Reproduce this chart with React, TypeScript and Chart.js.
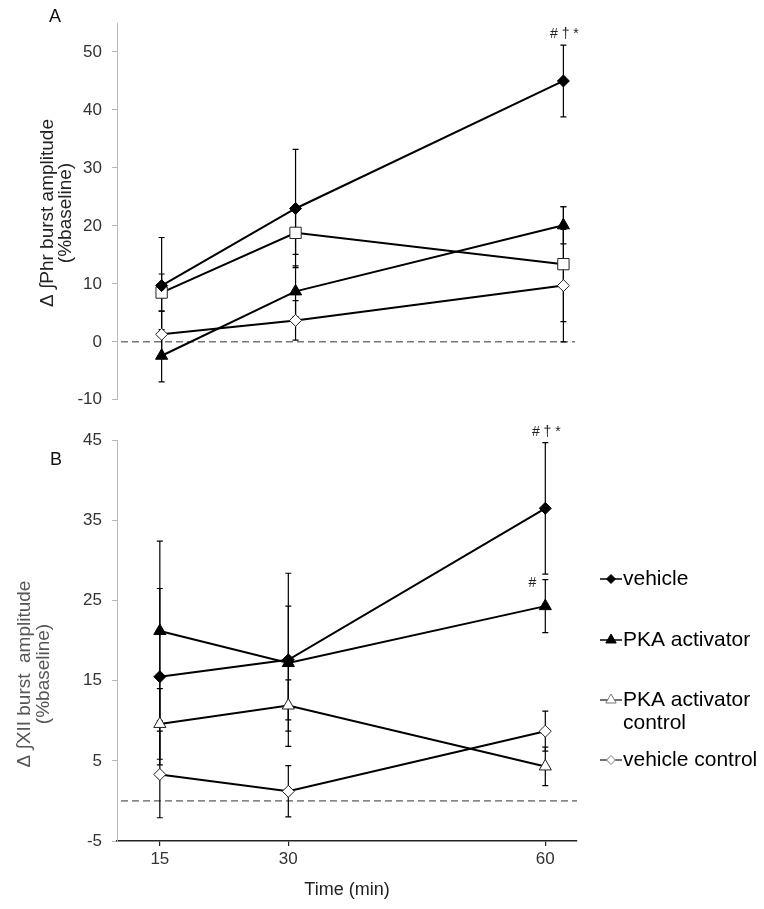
import React, { useEffect, useRef } from "react";
import { Chart, registerables } from "chart.js";
import { drawPoint } from "chart.js/helpers";

Chart.register(...registerables);

const FONT = "'Liberation Sans', Arial, Helvetica, sans-serif";

// ---------- data ----------
const timePoints = [15, 30, 60];
const seriesNames = ["vehicle", "PKA activator", "PKA activator control", "vehicle control"];
const legendLines = [["vehicle"], ["PKA activator"], ["PKA activator", "control"], ["vehicle control"]];

// Panel A: Δ∫Phr burst amplitude (%baseline)
const phrVehicle = [9.7, 23.0, 45.0];
const phrVehicleErr = [8.3, 10.2, 6.2];
const phrPka = [-2.4, 8.7, 20.1];
const phrPkaErr = [4.5, 4.4, 3.2];
const phrPkaCtrl = [8.5, 18.8, 13.4];
const phrPkaCtrlErr = [3.2, 3.7, 9.9];
const phrVehCtrl = [1.3, 3.7, 9.7];
const phrVehCtrlErr = [4.0, 3.4, 9.7];

// Panel B: Δ∫XII burst amplitude (%baseline)
const xiiVehicle = [15.5, 17.6, 36.5];
const xiiVehicleErr = [11.0, 10.8, 8.2];
const xiiPka = [21.2, 17.2, 24.3];
const xiiPkaErr = [11.2, 7.1, 3.3];
const xiiPkaCtrl = [9.6, 11.9, 4.3];
const xiiPkaCtrlErr = [4.4, 3.2, 2.4];
const xiiVehCtrl = [3.3, 1.2, 8.7];
const xiiVehCtrlErr = [5.4, 3.2, 2.5];

const yTicksA = [-10, 0, 10, 20, 30, 40, 50];
const yTicksB = [-5, 5, 15, 25, 35, 45];
const xTicks = [15, 30, 60];

const yTitleA = ["\u0394 \u222BPhr burst amplitude", "(%baseline)"];
const yTitleB = ["\u0394 \u222BXII burst  amplitude", "(%baseline)"];
const xTitle = "Time (min)";

const annotationsA = [{ series: 0, index: 2, text: "# \u2020 *", place: "above" }];
const annotationsB = [
  { series: 0, index: 2, text: "# \u2020 *", place: "above" },
  { series: 1, index: 2, text: "#", place: "left" },
];

// ---------- styles ----------
const stylesA = [
  { pointStyle: "rectRot", radius: 6, fill: "#000", stroke: "#000", bw: 1 },
  { pointStyle: "triangle", radius: 7, fill: "#000", stroke: "#000", bw: 1 },
  { pointStyle: "rect", radius: 8, fill: "#fff", stroke: "#222", bw: 1 },
  { pointStyle: "rectRot", radius: 6, fill: "#fff", stroke: "#222", bw: 1 },
];
const stylesB = [
  { pointStyle: "rectRot", radius: 6, fill: "#000", stroke: "#000", bw: 1 },
  { pointStyle: "triangle", radius: 7, fill: "#000", stroke: "#000", bw: 1 },
  { pointStyle: "triangle", radius: 7, fill: "#fff", stroke: "#222", bw: 1 },
  { pointStyle: "rectRot", radius: 6, fill: "#fff", stroke: "#222", bw: 1 },
];
const legendStyles = [
  { pointStyle: "rectRot", radius: 4.5, fill: "#000", stroke: "#000", line: "#000" },
  { pointStyle: "triangle", radius: 6, fill: "#000", stroke: "#000", line: "#000" },
  { pointStyle: "triangle", radius: 6, fill: "#fff", stroke: "#777", line: "#444" },
  { pointStyle: "rectRot", radius: 4.5, fill: "#fff", stroke: "#777", line: "#444" },
];

function makeDatasets(values: number[][], errors: number[][], styles: any[]) {
  return values.map((vals, si) => ({
    label: seriesNames[si],
    data: timePoints.map((t, i) => ({ x: t, y: vals[i] })),
    errors: errors[si],
    showLine: true,
    borderColor: "#000",
    borderWidth: 2,
    pointStyle: styles[si].pointStyle,
    pointRadius: styles[si].radius,
    pointBackgroundColor: styles[si].fill,
    pointBorderColor: styles[si].stroke,
    pointBorderWidth: styles[si].bw,
    tension: 0,
  }));
}

const errorBarPlugin = {
  id: "errorBars",
  beforeDatasetsDraw(chart: any) {
    const { ctx, scales } = chart;
    ctx.save();
    ctx.strokeStyle = "#000";
    ctx.lineWidth = 1.2;
    chart.data.datasets.forEach((ds: any) => {
      ds.data.forEach((p: any, i: number) => {
        const e = ds.errors[i];
        const x = scales.x.getPixelForValue(p.x);
        const y1 = scales.y.getPixelForValue(p.y + e);
        const y2 = scales.y.getPixelForValue(p.y - e);
        ctx.beginPath();
        ctx.moveTo(x, y1);
        ctx.lineTo(x, y2);
        ctx.moveTo(x - 3, y1);
        ctx.lineTo(x + 3, y1);
        ctx.moveTo(x - 3, y2);
        ctx.lineTo(x + 3, y2);
        ctx.stroke();
      });
    });
    ctx.restore();
  },
};

const zeroLinePlugin = {
  id: "zeroLine",
  beforeDatasetsDraw(chart: any) {
    const { ctx, chartArea, scales } = chart;
    const y = scales.y.getPixelForValue(0);
    ctx.save();
    ctx.setLineDash([7, 4]);
    ctx.strokeStyle = "#333";
    ctx.lineWidth = 1;
    ctx.beginPath();
    ctx.moveTo(chartArea.left + 4, y);
    ctx.lineTo(chartArea.right, y);
    ctx.stroke();
    ctx.restore();
  },
};

function makeAnnotationPlugin(annots: any[]) {
  return {
    id: "annots",
    afterDatasetsDraw(chart: any) {
      const { ctx, scales } = chart;
      ctx.save();
      ctx.fillStyle = "#222";
      ctx.font = `14px ${FONT}`;
      annots.forEach((a) => {
        const ds: any = chart.data.datasets[a.series];
        const p = ds.data[a.index];
        const x = scales.x.getPixelForValue(p.x);
        const yTop = scales.y.getPixelForValue(p.y + ds.errors[a.index]);
        if (a.place === "above") {
          ctx.textAlign = "center";
          ctx.textBaseline = "alphabetic";
          ctx.fillText(a.text, x + 1, yTop - 7);
        } else {
          ctx.textAlign = "right";
          ctx.textBaseline = "middle";
          ctx.fillText(a.text, x - 9, yTop + 3);
        }
      });
      ctx.restore();
    },
  };
}

function makePanelLabelPlugin(text: string, x: number, y: number) {
  return {
    id: "panelLabel",
    afterDraw(chart: any) {
      const { ctx } = chart;
      ctx.save();
      ctx.fillStyle = "#111";
      ctx.font = `18px ${FONT}`;
      ctx.textAlign = "center";
      ctx.textBaseline = "middle";
      ctx.fillText(text, x, y);
      ctx.restore();
    },
  };
}

function makeYTitlePlugin(lines: string[], xs: number[], cy: number, color: string) {
  return {
    id: "yTitle",
    afterDraw(chart: any) {
      const { ctx } = chart;
      ctx.save();
      ctx.fillStyle = color;
      ctx.font = `19px ${FONT}`;
      ctx.textAlign = "center";
      ctx.textBaseline = "middle";
      lines.forEach((ln, i) => {
        ctx.save();
        ctx.translate(xs[i], cy);
        ctx.rotate(-Math.PI / 2);
        ctx.fillText(ln, 0, 0);
        ctx.restore();
      });
      ctx.restore();
    },
  };
}

function makeLegendPlugin(offsetY: number) {
  const centers = [579, 640, 700, 760];
  return {
    id: "customLegend",
    afterDraw(chart: any) {
      const { ctx } = chart;
      ctx.save();
      legendLines.forEach((lines, i) => {
        const st = legendStyles[i];
        const y = centers[i] - offsetY;
        ctx.strokeStyle = st.line;
        ctx.lineWidth = 1.5;
        ctx.beginPath();
        ctx.moveTo(600, y);
        ctx.lineTo(622, y);
        ctx.stroke();
        ctx.fillStyle = st.fill;
        ctx.strokeStyle = st.stroke;
        ctx.lineWidth = 1;
        drawPoint(ctx, { pointStyle: st.pointStyle as any, radius: st.radius, rotation: 0, borderWidth: 1 }, 611, y);
        ctx.fillStyle = "#000";
        ctx.font = `21px ${FONT}`;
        ctx.textAlign = "left";
        ctx.textBaseline = "middle";
        lines.forEach((ln, li) => ctx.fillText(ln, 623, y + li * 23));
      });
      ctx.restore();
    },
  };
}

function buildConfig(p: any): any {
  return {
    type: "scatter",
    data: { datasets: p.datasets },
    options: {
      responsive: false,
      animation: false,
      events: [],
      layout: { padding: p.padding },
      plugins: { legend: { display: false }, tooltip: { enabled: false } },
      scales: {
        x: {
          type: "linear",
          min: p.xMin,
          max: p.xMax,
          display: p.showX,
          afterBuildTicks: (s: any) => {
            s.ticks = xTicks.map((v) => ({ value: v }));
          },
          afterFit: (s: any) => {
            if (p.showX) s.height = p.xHeight;
          },
          border: { display: true, color: "#222", width: 1.5 },
          grid: { drawOnChartArea: false, drawTicks: true, tickLength: 5, color: "#222", lineWidth: 1.2 },
          ticks: { color: "#333", font: { family: FONT, size: 17 }, padding: 3, maxRotation: 0 },
          title: {
            display: p.showX,
            text: xTitle,
            color: "#222",
            font: { family: FONT, size: 18 },
            padding: { top: 0, bottom: 8 },
          },
        },
        y: {
          type: "linear",
          min: p.yMin,
          max: p.yMax,
          afterBuildTicks: (s: any) => {
            s.ticks = p.yTicks.map((v: number) => ({ value: v }));
          },
          afterFit: (s: any) => {
            s.width = 117;
          },
          border: { display: true, color: "#b8b8b8", width: 1 },
          grid: { drawOnChartArea: false, drawTicks: true, tickLength: 5, color: "#b8b8b8" },
          ticks: { color: "#333", font: { family: FONT, size: 17 }, padding: 10 },
          title: { display: false },
        },
      },
    },
    plugins: p.plugins,
  };
}

export default function App() {
  const refA = useRef<HTMLCanvasElement>(null);
  const refB = useRef<HTMLCanvasElement>(null);

  useEffect(() => {
    const chartA = new Chart(
      refA.current as HTMLCanvasElement,
      buildConfig({
        datasets: makeDatasets(
          [phrVehicle, phrPka, phrPkaCtrl, phrVehCtrl],
          [phrVehicleErr, phrPkaErr, phrPkaCtrlErr, phrVehCtrlErr],
          stylesA
        ),
        padding: { left: 0, right: 189, top: 23, bottom: 15 },
        xMin: 10,
        xMax: 61.3,
        showX: false,
        xHeight: 0,
        yMin: -10,
        yMax: 55,
        yTicks: yTicksA,
        plugins: [
          zeroLinePlugin,
          errorBarPlugin,
          makeAnnotationPlugin(annotationsA),
          makePanelLabelPlugin("A", 55, 17),
          makeYTitlePlugin(yTitleA, [48, 66], 213, "#222"),
        ],
      })
    );
    const chartB = new Chart(
      refB.current as HTMLCanvasElement,
      buildConfig({
        datasets: makeDatasets(
          [xiiVehicle, xiiPka, xiiPkaCtrl, xiiVehCtrl],
          [xiiVehicleErr, xiiPkaErr, xiiPkaCtrlErr, xiiVehCtrlErr],
          stylesB
        ),
        padding: { left: 0, right: 187, top: 20, bottom: 0 },
        xMin: 10,
        xMax: 63.7,
        showX: true,
        xHeight: 68,
        yMin: -5,
        yMax: 45,
        yTicks: yTicksB,
        plugins: [
          zeroLinePlugin,
          errorBarPlugin,
          makeAnnotationPlugin(annotationsB),
          makePanelLabelPlugin("B", 56, 40),
          makeYTitlePlugin(yTitleB, [25, 44], 674 - 420, "#555"),
          makeLegendPlugin(420),
        ],
      })
    );
    return () => {
      chartA.destroy();
      chartB.destroy();
    };
  }, []);

  return (
    <div style={{ position: "fixed", left: 0, top: 0, width: 764, height: 909, background: "#fff" }}>
      <canvas ref={refA} width={764} height={420} style={{ position: "absolute", left: 0, top: 0 }} />
      <canvas ref={refB} width={764} height={489} style={{ position: "absolute", left: 0, top: 420 }} />
    </div>
  );
}
